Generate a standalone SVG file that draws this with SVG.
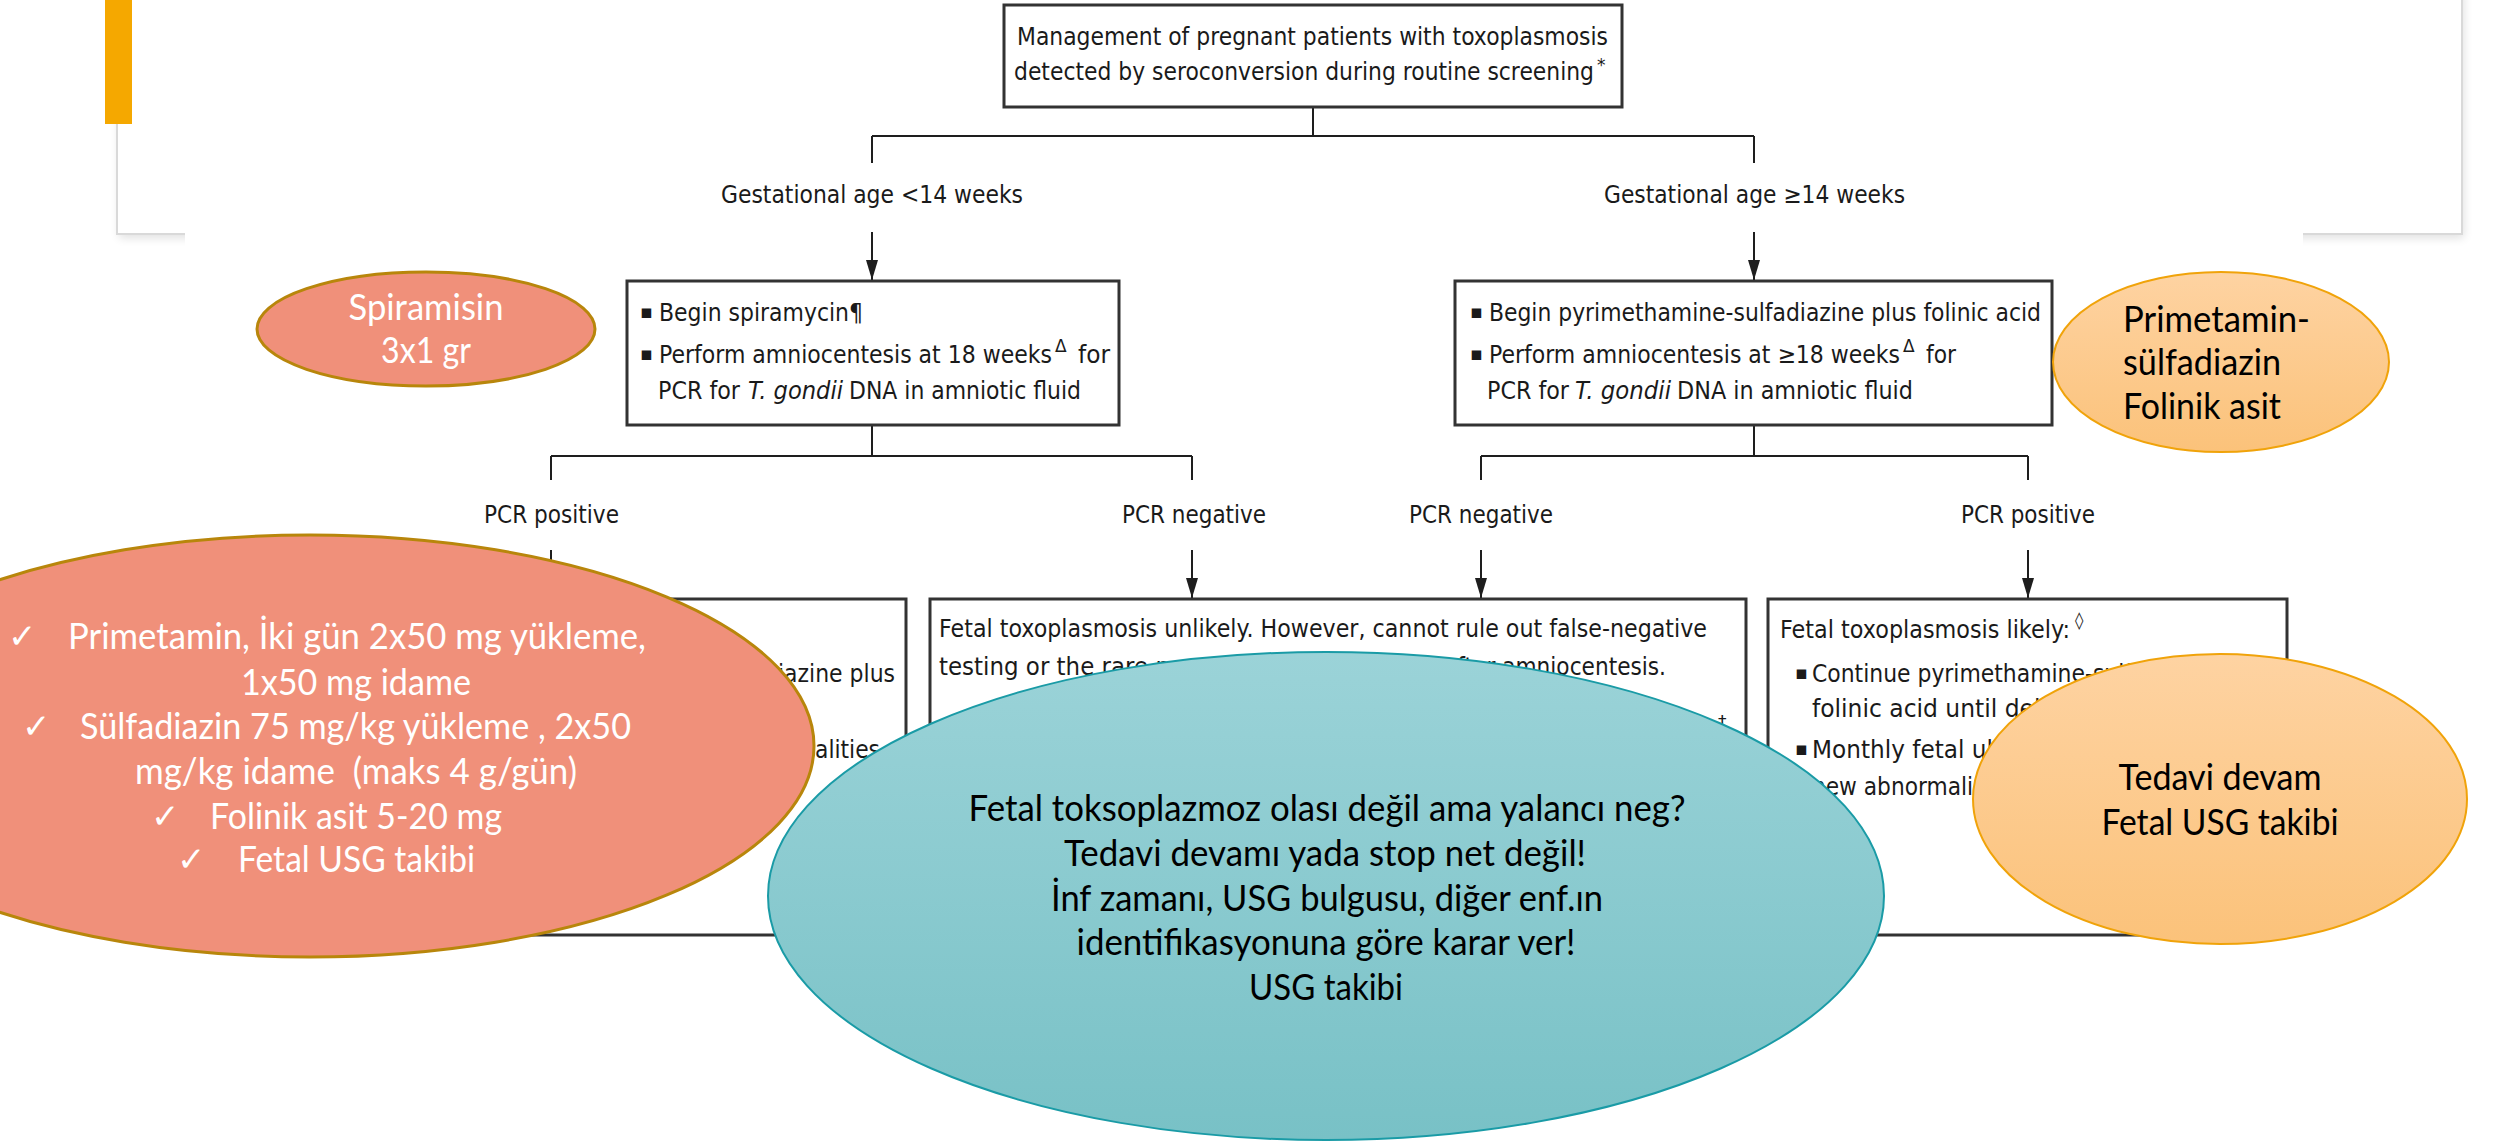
<svg xmlns="http://www.w3.org/2000/svg" width="2506" height="1143" viewBox="0 0 2506 1143">
<style>
.fc{font-family:"DejaVu Sans",Verdana,sans-serif;font-size:24px;fill:#1a1a1a}
.bul{font-family:"DejaVu Sans",sans-serif;font-size:19px;fill:#1a1a1a}
.sup{font-size:17px}
.box{fill:#fff;stroke:#333;stroke-width:3}
.conn{stroke:#1e1e1e;stroke-width:2;fill:none}
.tr{font-family:Lato,"Open Sans",sans-serif;font-size:36px}
.w{fill:#fff}
.k{fill:#000}
.chk{font-family:"DejaVu Sans",sans-serif;font-size:34px;fill:#fff}
.red{fill:#F0907A;stroke:#B8860B;stroke-width:3}
.org{fill:url(#gOrange);stroke:#F0A30A;stroke-width:2}
.blu{fill:url(#gBlue);stroke:#1A9BA6;stroke-width:2}
</style>
<defs>
<linearGradient id="gOrange" x1="0" y1="0" x2="0" y2="1"><stop offset="0" stop-color="#FED3A2"/><stop offset="1" stop-color="#FBC27A"/></linearGradient>
<linearGradient id="gBlue" x1="0" y1="0" x2="0" y2="1"><stop offset="0" stop-color="#9BD3D8"/><stop offset="1" stop-color="#78C1C6"/></linearGradient>
<marker id="arr" viewBox="0 0 20 12" refX="20" refY="6" markerWidth="20" markerHeight="12" orient="auto" markerUnits="userSpaceOnUse"><path d="M0,0 L20,6 L0,12 z" fill="#1e1e1e"/></marker>
<filter id="sh" x="-5%" y="-20%" width="110%" height="140%"><feGaussianBlur stdDeviation="5"/></filter>
</defs>
<rect width="2506" height="1143" fill="#fff"/>
<g id="panel">
<rect x="119" y="-10" width="2345" height="248" fill="#000" opacity="0.12" filter="url(#sh)"/>
<rect x="117" y="-10" width="2345" height="244" fill="#fff" stroke="#d9d9d9" stroke-width="2"/>
<rect x="185" y="0" width="2118" height="1143" fill="#fff"/>
<rect x="105" y="0" width="27" height="124" fill="#F5A800"/>
</g>
<g id="connectors">
<path class="conn" d="M1313,107V136M872,136H1754M872,136V163M1754,136V163M872,425V456M551,456H1192M551,456V480M1192,456V480M1754,425V456M1481,456H2028M1481,456V480M2028,456V480"/>
<line class="conn" x1="872" y1="232" x2="872" y2="280" marker-end="url(#arr)"/>
<line class="conn" x1="1754" y1="232" x2="1754" y2="280" marker-end="url(#arr)"/>
<line class="conn" x1="551" y1="550" x2="551" y2="598" marker-end="url(#arr)"/>
<line class="conn" x1="1192" y1="550" x2="1192" y2="598" marker-end="url(#arr)"/>
<line class="conn" x1="1481" y1="550" x2="1481" y2="598" marker-end="url(#arr)"/>
<line class="conn" x1="2028" y1="550" x2="2028" y2="598" marker-end="url(#arr)"/>
</g>
<g id="labels">
<text class="fc" x="721" y="203" textLength="302" lengthAdjust="spacingAndGlyphs">Gestational age &lt;14 weeks</text>
<text class="fc" x="1604" y="203" textLength="301" lengthAdjust="spacingAndGlyphs">Gestational age ≥14 weeks</text>
<text class="fc" x="484" y="523" textLength="135" lengthAdjust="spacingAndGlyphs">PCR positive</text>
<text class="fc" x="1122" y="523" textLength="144" lengthAdjust="spacingAndGlyphs">PCR negative</text>
<text class="fc" x="1409" y="523" textLength="144" lengthAdjust="spacingAndGlyphs">PCR negative</text>
<text class="fc" x="1961" y="523" textLength="134" lengthAdjust="spacingAndGlyphs">PCR positive</text>
</g>
<g id="n-top">
<rect class="box" x="1004" y="5" width="618" height="102"/>
<text class="fc" x="1017" y="45" textLength="591" lengthAdjust="spacingAndGlyphs">Management of pregnant patients with toxoplasmosis</text>
<text class="fc" x="1014" y="80"><tspan textLength="580" lengthAdjust="spacingAndGlyphs">detected by seroconversion during routine screening</tspan><tspan class="sup" dx="3" dy="-9">*</tspan></text>
</g>
<g id="n-left">
<rect class="box" x="627" y="281" width="492" height="144"/>
<text class="bul" x="640" y="318">▪</text>
<text class="fc" x="659" y="321" textLength="204" lengthAdjust="spacingAndGlyphs">Begin spiramycin¶</text>
<text class="bul" x="640" y="360">▪</text>
<text class="fc" x="659" y="363"><tspan textLength="393" lengthAdjust="spacingAndGlyphs">Perform amniocentesis at 18 weeks</tspan><tspan class="sup" dx="3" dy="-11">Δ</tspan><tspan x="1078" dy="11" textLength="32" lengthAdjust="spacingAndGlyphs">for</tspan></text>
<text class="fc" x="658" y="399"><tspan textLength="82" lengthAdjust="spacingAndGlyphs">PCR for</tspan><tspan x="748" textLength="95" lengthAdjust="spacingAndGlyphs" font-style="italic">T. gondii</tspan><tspan x="849" textLength="232" lengthAdjust="spacingAndGlyphs">DNA in amniotic fluid</tspan></text>
</g>
<g id="n-right">
<rect class="box" x="1455" y="281" width="597" height="144"/>
<text class="bul" x="1470" y="318">▪</text>
<text class="fc" x="1489" y="321" textLength="552" lengthAdjust="spacingAndGlyphs">Begin pyrimethamine-sulfadiazine plus folinic acid</text>
<text class="bul" x="1470" y="360">▪</text>
<text class="fc" x="1489" y="363"><tspan textLength="411" lengthAdjust="spacingAndGlyphs">Perform amniocentesis at ≥18 weeks</tspan><tspan class="sup" dx="3" dy="-11">Δ</tspan><tspan x="1926" dy="11" textLength="30" lengthAdjust="spacingAndGlyphs">for</tspan></text>
<text class="fc" x="1487" y="399"><tspan textLength="82" lengthAdjust="spacingAndGlyphs">PCR for</tspan><tspan x="1575" textLength="96" lengthAdjust="spacingAndGlyphs" font-style="italic">T. gondii</tspan><tspan x="1677" textLength="236" lengthAdjust="spacingAndGlyphs">DNA in amniotic fluid</tspan></text>
</g>
<g id="n-boxA">
<rect class="box" x="387" y="599" width="519" height="336"/>
<text class="fc" x="778" y="682" textLength="117" lengthAdjust="spacingAndGlyphs">iazine plus</text>
<text class="fc" x="815" y="758" textLength="65" lengthAdjust="spacingAndGlyphs">alities</text>
</g>
<g id="n-boxB">
<rect class="box" x="930" y="599" width="816" height="336"/>
<text class="fc" x="939" y="637" textLength="768" lengthAdjust="spacingAndGlyphs">Fetal toxoplasmosis unlikely. However, cannot rule out false-negative</text>
<text class="fc" x="939" y="675" textLength="245" lengthAdjust="spacingAndGlyphs">testing or the rare po</text>
<text class="fc" x="1444" y="675" textLength="222" lengthAdjust="spacingAndGlyphs">after amniocentesis.</text>
<text class="fc sup" x="1718" y="728">†</text>
</g>
<g id="n-boxC">
<rect class="box" x="1768" y="599" width="519" height="336"/>
<text class="fc" x="1780" y="638"><tspan textLength="290" lengthAdjust="spacingAndGlyphs">Fetal toxoplasmosis likely:</tspan><tspan class="sup" dx="5" dy="-12">◊</tspan></text>
<text class="bul" x="1795" y="679">▪</text>
<text class="fc" x="1812" y="682" textLength="320" lengthAdjust="spacingAndGlyphs">Continue pyrimethamine-sulf</text>
<text class="fc" x="1812" y="717" textLength="235" lengthAdjust="spacingAndGlyphs">folinic acid until deli</text>
<text class="bul" x="1795" y="755">▪</text>
<text class="fc" x="1812" y="758" textLength="190" lengthAdjust="spacingAndGlyphs">Monthly fetal ult</text>
<text class="fc" x="1812" y="795" textLength="161" lengthAdjust="spacingAndGlyphs">new abnormali</text>
</g>
<g id="n-spiramisin">
<ellipse class="red" cx="426" cy="329" rx="169" ry="57"/>
<text class="tr w" x="426" y="320" text-anchor="middle" textLength="155" lengthAdjust="spacingAndGlyphs">Spiramisin</text>
<text class="tr w" x="426" y="363" text-anchor="middle" textLength="90" lengthAdjust="spacingAndGlyphs">3x1 gr</text>
</g>
<g id="n-primetamin">
<ellipse class="org" cx="2221" cy="362" rx="168" ry="90"/>
<text class="tr k" x="2123" y="332" textLength="187" lengthAdjust="spacingAndGlyphs">Primetamin-</text>
<text class="tr k" x="2123" y="375" textLength="158" lengthAdjust="spacingAndGlyphs">sülfadiazin</text>
<text class="tr k" x="2123" y="419" textLength="158" lengthAdjust="spacingAndGlyphs">Folinik asit</text>
</g>
<g id="n-red">
<ellipse class="red" cx="310" cy="746" rx="504" ry="211"/>
<text class="chk" x="8" y="648">✓</text>
<text class="tr w" x="68" y="649" textLength="578" lengthAdjust="spacingAndGlyphs">Primetamin, İki gün 2x50 mg yükleme,</text>
<text class="tr w" x="241" y="695" textLength="230" lengthAdjust="spacingAndGlyphs">1x50 mg idame</text>
<text class="chk" x="22" y="738">✓</text>
<text class="tr w" x="80" y="739" textLength="551" lengthAdjust="spacingAndGlyphs">Sülfadiazin 75 mg/kg yükleme , 2x50</text>
<text class="tr w" x="135" y="784" textLength="442" lengthAdjust="spacingAndGlyphs" style="white-space:pre">mg/kg idame  (maks 4 g/gün)</text>
<text class="chk" x="151" y="828">✓</text>
<text class="tr w" x="210" y="829" textLength="292" lengthAdjust="spacingAndGlyphs">Folinik asit 5-20 mg</text>
<text class="chk" x="177" y="871">✓</text>
<text class="tr w" x="238" y="872" textLength="237" lengthAdjust="spacingAndGlyphs">Fetal USG takibi</text>
</g>
<g id="n-blue">
<ellipse class="blu" cx="1326" cy="896" rx="558" ry="244"/>
<text class="tr k" x="1327" y="821" text-anchor="middle" textLength="717" lengthAdjust="spacingAndGlyphs">Fetal toksoplazmoz olası değil ama yalancı neg?</text>
<text class="tr k" x="1325" y="866" text-anchor="middle" textLength="522" lengthAdjust="spacingAndGlyphs">Tedavi devamı yada stop net değil!</text>
<text class="tr k" x="1327" y="911" text-anchor="middle" textLength="552" lengthAdjust="spacingAndGlyphs">İnf zamanı, USG bulgusu, diğer enf.ın</text>
<text class="tr k" x="1326" y="955" text-anchor="middle" textLength="499" lengthAdjust="spacingAndGlyphs">identifikasyonuna göre karar ver!</text>
<text class="tr k" x="1326" y="1000" text-anchor="middle" textLength="154" lengthAdjust="spacingAndGlyphs">USG takibi</text>
</g>
<g id="n-tedavi">
<ellipse class="org" cx="2220" cy="799" rx="247" ry="145"/>
<text class="tr k" x="2220" y="790" text-anchor="middle" textLength="203" lengthAdjust="spacingAndGlyphs">Tedavi devam</text>
<text class="tr k" x="2220" y="835" text-anchor="middle" textLength="237" lengthAdjust="spacingAndGlyphs">Fetal USG takibi</text>
</g>
</svg>
